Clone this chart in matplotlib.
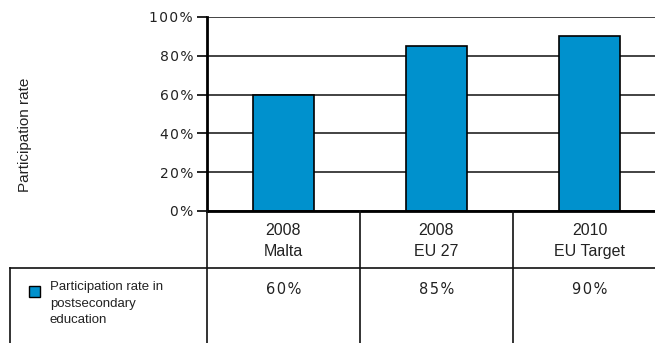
import matplotlib
matplotlib.use("Agg")
import matplotlib.pyplot as plt
from matplotlib.lines import Line2D
import matplotlib.transforms as mtransforms

# participation rate in postsecondary education
years = ["2008", "2008", "2010"]
groups = ["Malta", "EU 27", "EU Target"]
rates = [60, 85, 90]
series_name = "Participation rate in\npostsecondary\neducation"
yticks = [0, 20, 40, 60, 80, 100]

bar_color = "#0091CD"
W, H = 655, 343


def spaced(s):
    # loose letter spacing for the percent labels
    return "\u200a".join(s)


fig = plt.figure(figsize=(W / 100, H / 100), dpi=100)

# plot area in pixels: left 207, top 17, bottom 211, one column 153 px
left, top, bottom, col = 207, 17, 211, 153
ax = fig.add_axes([left / W, (H - bottom) / H, 3 * col / W, (bottom - top) / H])

xs = list(range(len(rates)))
ax.bar(xs, rates, width=0.4, color=bar_color, edgecolor="black", linewidth=1.2, zorder=3)
ax.set_xlim(-0.5, len(rates) - 0.5)
ax.set_ylim(0, 100)
ax.set_yticks(yticks)
ax.set_yticklabels([spaced(f"{v}%") for v in yticks], fontsize=10,
                   family="DejaVu Sans", color="#222222")
ax.yaxis.grid(True, color="#222222", linewidth=1.2, zorder=0)
ax.set_xticks([])
ax.tick_params(axis="y", length=7, width=1.2, direction="out", pad=3)
for s in ["top", "right"]:
    ax.spines[s].set_visible(False)
ax.spines["left"].set_linewidth(2)
ax.spines["bottom"].set_linewidth(2)
ax.spines["bottom"].set_zorder(4)

fig.text(25 / W, (H - 135) / H, "Participation rate", rotation=90, ha="center",
         va="center", fontsize=11, family="Liberation Sans", color="#222222")

# data table under the chart
def fy(py):
    return (H - py) / H

blend = mtransforms.blended_transform_factory(ax.transData, fig.transFigure)
line_kw = dict(color="#111111", linewidth=1.2)
row_y = 268
fig.add_artist(Line2D([10 / W, 1], [fy(row_y), fy(row_y)], **line_kw))
fig.add_artist(Line2D([10 / W, 10 / W], [fy(row_y), 0], **line_kw))
fig.add_artist(Line2D([left / W, left / W], [fy(bottom), 0], **line_kw))
for i in range(1, len(rates)):
    fig.add_artist(Line2D([i - 0.5, i - 0.5], [fy(bottom), 0], transform=blend, **line_kw))

for x, yr, g, r in zip(xs, years, groups, rates):
    fig.text(x, fy(241), f"{yr}\n{g}", transform=blend, ha="center", va="center",
             fontsize=11.5, family="Liberation Sans", color="#222222", linespacing=1.45)
    fig.text(x, fy(289), spaced(f"{r}%"), transform=blend, ha="center", va="center",
             fontsize=10.5, family="DejaVu Sans", color="#222222")

fig.add_artist(plt.Rectangle((29 / W, fy(297)), 11 / W, 11 / H, facecolor=bar_color,
                             edgecolor="black", linewidth=1, transform=fig.transFigure))
fig.text(50 / W, fy(281), series_name, ha="left", va="top", fontsize=9.5,
         family="Liberation Sans", color="#222222", linespacing=1.5)

fig.savefig("out.png", dpi=100)
